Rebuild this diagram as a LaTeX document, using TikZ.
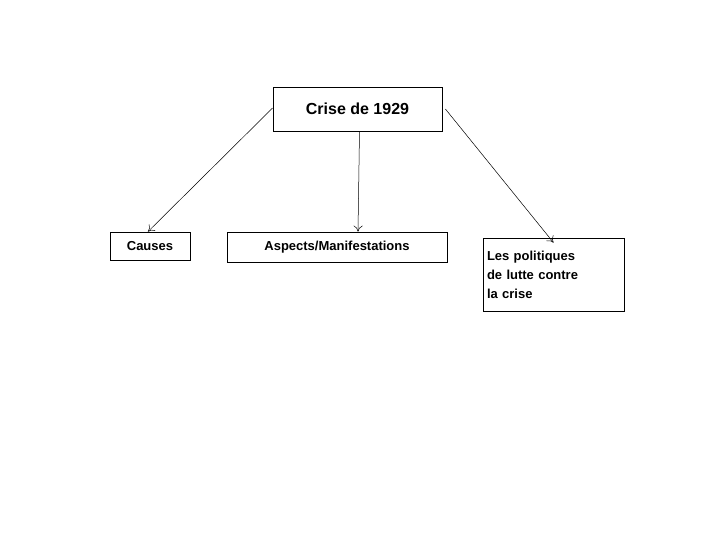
\documentclass[tikz,border=0pt]{standalone}
\usepackage{fontspec}
\setmainfont{Liberation Sans}
\usetikzlibrary{arrows.meta}
\begin{document}
\begin{tikzpicture}[x=1pt,y=-1pt,
  box/.style={draw,line width=0.8pt,inner sep=0pt,font=\bfseries},
  arr/.style={-{To[length=6pt,width=9pt]},line width=0.5pt}]
\useasboundingbox (0,0) rectangle (728,546);
\node[box,minimum width=169pt,minimum height=44pt,font=\bfseries\fontsize{16}{19}\selectfont] (c) at (357.5,109) {Crise de 1929};
\node[box,minimum width=80pt,minimum height=28pt,font=\bfseries\fontsize{13}{16}\selectfont] (a) at (150,246) {Causes};
\node[box,minimum width=220pt,minimum height=30pt,font=\bfseries\fontsize{13}{16}\selectfont] (b) at (337,247) {Aspects/Manifestations};
\node[box,minimum width=141pt,minimum height=73pt,align=left,text width=133pt,font=\bfseries\fontsize{13}{19}\selectfont] (d) at (553.5,274.5) {Les politiques\\de lutte contre\\la crise};
\draw[arr] (c.west) ++(0,-1) -- ([xshift=-2pt]a.north);
\draw[arr] (c.south) ++(2,0) -- ([xshift=21pt]b.north);
\draw[arr] ([xshift=3pt]c.east) -- ([yshift=-5pt]d.north);
\end{tikzpicture}
\end{document}
